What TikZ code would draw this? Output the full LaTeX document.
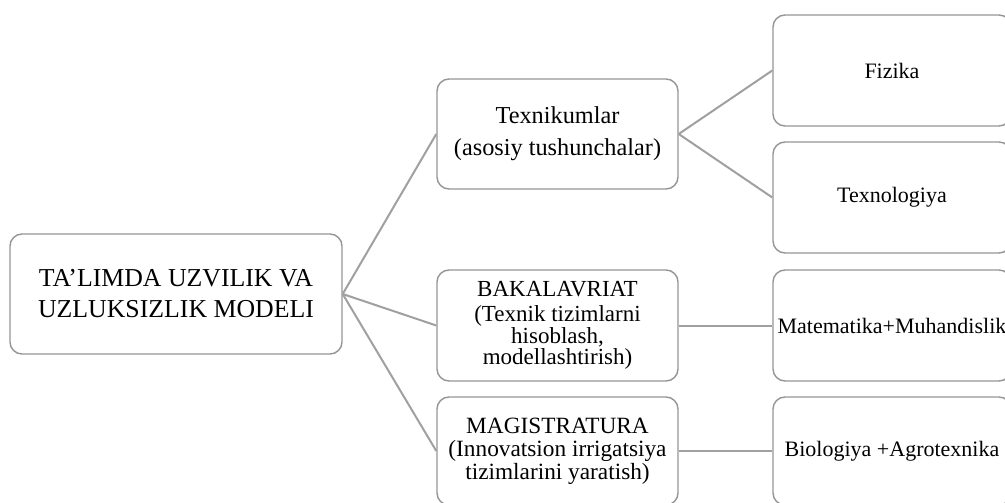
\documentclass[tikz,border=0pt]{standalone}
\usepackage{fontspec}
\setmainfont{Liberation Serif}
\definecolor{boxgray}{HTML}{959595}
\definecolor{linegray}{HTML}{A0A0A0}
\usetikzlibrary{positioning}

\begin{document}
\begin{tikzpicture}[x=1pt, y=-1pt,
      rootbox/.style={draw=boxgray, line width=1.4pt, rounded corners=12pt, inner sep=0pt,
         minimum width=332pt, minimum height=120pt, align=center,
         font=\fontsize{25.8}{31}\selectfont},
      levelbox/.style={draw=boxgray, line width=1.4pt, rounded corners=12pt, inner sep=0pt,
         minimum width=241pt, minimum height=110pt, align=center,
         font=\fontsize{23.3}{23}\selectfont},
      subjbox/.style={draw=boxgray, line width=1.4pt, rounded corners=12pt, inner sep=0pt,
         minimum width=238pt, minimum height=111pt, align=center,
         font=\fontsize{22}{26}\selectfont},
      link/.style={draw=linegray, line width=2pt}]
      \useasboundingbox (0,0) rectangle (1005,503);
      \clip (0,0) rectangle (1005,503);
      % Root node
      \node[rootbox] (model) at (176,294) {TA’LIMDA UZVILIK VA\\UZLUKSIZLIK MODELI};
      % Education levels
      \node[levelbox, font=\fontsize{24.3}{32}\selectfont] (texn) at (557.5,134)
         {Texnikumlar\\(asosiy tushunchalar)};
      \node[levelbox, minimum height=111pt, font=\fontsize{23}{21.5}\selectfont] (bak) at (557.5,325.5)
         {BAKALAVRIAT\\[3.5pt](Texnik tizimlarni\\hisoblash,\\modellashtirish)};
      \node[levelbox, minimum height=108pt] (mag) at (557.5,451)
         {MAGISTRATURA\\(Innovatsion irrigatsiya\\tizimlarini yaratish)};
      % Subjects
      \node[subjbox] (fiz) at (892,70.5) {Fizika};
      \node[subjbox] (tech) at (892,197.5) {Texnologiya};
      \node[subjbox] (mat) at (892,325.5) {Matematika+Muhandislik};
      \node[subjbox, minimum height=108pt] (bio) at (892,451) {Biologiya +Agrotexnika};
      % Connectors
      \draw[link] (model.east) -- (texn.west);
      \draw[link] (model.east) -- (bak.west);
      \draw[link] (model.east) -- (mag.west);
      \draw[link] (texn.east) -- (fiz.west);
      \draw[link] (texn.east) -- (tech.west);
      \draw[link] (bak.east) -- (mat.west);
      \draw[link] (mag.east) -- (bio.west);
   \end{tikzpicture}
\end{document}
